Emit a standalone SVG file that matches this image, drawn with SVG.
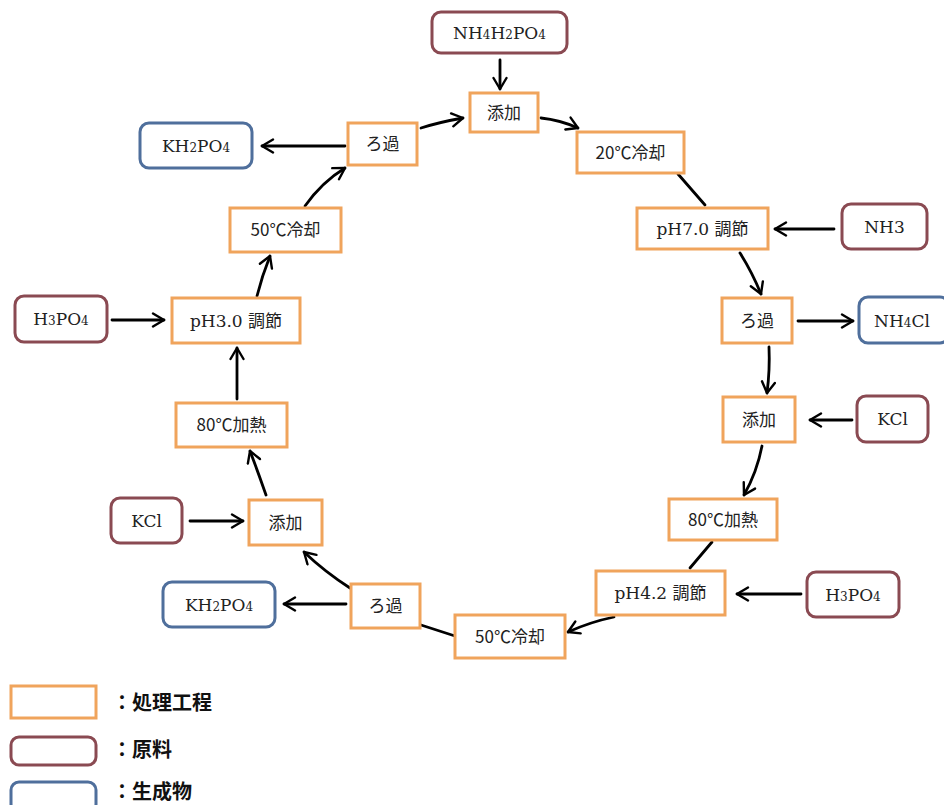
<svg xmlns="http://www.w3.org/2000/svg" width="944" height="805" viewBox="0 0 944 805">
<style>
.p{fill:#fff;stroke:#f0a45c;stroke-width:3}
.r{fill:#fff;stroke:#8a4a52;stroke-width:3}
.b{fill:#fff;stroke:#4f6f9c;stroke-width:3}
text{font-family:"DejaVu Serif","Noto Sans CJK JP",serif;font-size:17px;fill:#222;text-anchor:middle}
.j{font-family:"Noto Sans CJK JP","Liberation Sans",sans-serif}
.s{font-size:12px}
.lg{font-family:"Noto Sans CJK JP",sans-serif;font-size:20px;font-weight:bold;text-anchor:start;fill:#111}
.c{fill:none;stroke:#000;stroke-width:2.8;stroke-linecap:round}
.ca{marker-end:url(#ah)}
</style>
<defs>
<marker id="ah" markerWidth="16" markerHeight="16" refX="13" refY="8" orient="auto" markerUnits="userSpaceOnUse">
<path d="M2,1.5 L13,8 L2,14.5" fill="none" stroke="#000" stroke-width="2.4" stroke-linecap="round" stroke-linejoin="round"/>
</marker>
</defs>
<rect width="944" height="805" fill="#fff"/>

<g id="connectors">
<path class="c ca" d="M500,60 L500,89"/>
<path class="c ca" d="M541,118 Q560,120 578,128"/>
<path class="c" d="M678,174 L705,205"/>
<path class="c ca" d="M834,229 L775,229"/>
<path class="c ca" d="M740,253 Q752,272 761,294"/>
<path class="c ca" d="M798,321 L853,321"/>
<path class="c ca" d="M769,347 Q770,370 767,393"/>
<path class="c ca" d="M852,420 L810,420"/>
<path class="c ca" d="M762,446 Q757,472 744,495"/>
<path class="c" d="M712,542 L690,568"/>
<path class="c ca" d="M801,594 L737,594"/>
<path class="c ca" d="M614,617 Q590,622 568,632"/>
<path class="c" d="M455,636 L421,625"/>
<path class="c ca" d="M346,604 L284,604"/>
<path class="c ca" d="M350,588 Q325,572 304,552"/>
<path class="c ca" d="M190,521 L243,521"/>
<path class="c ca" d="M266,495 Q258,472 250,451"/>
<path class="c ca" d="M237,399 L237,348"/>
<path class="c ca" d="M112,320 L164,320"/>
<path class="c ca" d="M257,296 Q262,276 270,256"/>
<path class="c ca" d="M305,206 Q322,182 345,168"/>
<path class="c ca" d="M345,146 L262,146"/>
<path class="c ca" d="M421,128 Q440,122 463,118"/>
</g>

<g id="n_nh4h2po4"><rect class="r" x="432" y="12" width="135" height="41" rx="9"/><text x="499.5" y="39">NH<tspan class="s">4</tspan>H<tspan class="s">2</tspan>PO<tspan class="s">4</tspan></text></g>
<g id="n_add1"><rect class="p" x="470" y="93" width="68" height="39"/><text class="j" x="504" y="119">添加</text></g>
<g id="n_cool20"><rect class="p" x="577" y="132" width="107" height="41"/><text class="j" x="630.5" y="159">20℃冷却</text></g>
<g id="n_ph70"><rect class="p" x="637" y="208" width="131" height="41"/><text x="702.5" y="235">pH7.0 <tspan class="j">調節</tspan></text></g>
<g id="n_nh3"><rect class="r" x="842" y="204" width="85" height="45" rx="9"/><text x="884.5" y="233">NH3</text></g>
<g id="n_filt1"><rect class="p" x="722" y="298" width="70" height="45"/><text class="j" x="757" y="327">ろ過</text></g>
<g id="n_nh4cl"><rect class="b" x="859" y="297" width="90" height="46" rx="9"/><text x="902" y="327">NH<tspan class="s">4</tspan>Cl</text></g>
<g id="n_add2"><rect class="p" x="723" y="397" width="72" height="45"/><text class="j" x="759" y="426">添加</text></g>
<g id="n_kcl1"><rect class="r" x="857" y="396" width="71" height="46" rx="9"/><text x="892.5" y="425">KCl</text></g>
<g id="n_heat80a"><rect class="p" x="669" y="499" width="108" height="41"/><text class="j" x="723" y="526">80℃加熱</text></g>
<g id="n_ph42"><rect class="p" x="596" y="571" width="129" height="44"/><text x="660.5" y="599">pH4.2 <tspan class="j">調節</tspan></text></g>
<g id="n_h3po4a"><rect class="r" x="807" y="572" width="92" height="45" rx="9"/><text x="853" y="601">H<tspan class="s">3</tspan>PO<tspan class="s">4</tspan></text></g>
<g id="n_cool50a"><rect class="p" x="455" y="615" width="110" height="43"/><text class="j" x="510" y="643">50℃冷却</text></g>
<g id="n_filt2"><rect class="p" x="351" y="584" width="69" height="44"/><text class="j" x="385.5" y="612">ろ過</text></g>
<g id="n_kh2po4b"><rect class="b" x="163" y="582" width="112" height="45" rx="9"/><text x="219" y="611">KH<tspan class="s">2</tspan>PO<tspan class="s">4</tspan></text></g>
<g id="n_add3"><rect class="p" x="249" y="500" width="73" height="45"/><text class="j" x="285.5" y="529">添加</text></g>
<g id="n_kcl2"><rect class="r" x="111" y="498" width="71" height="45" rx="9"/><text x="146.5" y="527">KCl</text></g>
<g id="n_heat80b"><rect class="p" x="176" y="403" width="111" height="44"/><text class="j" x="231.5" y="431">80℃加熱</text></g>
<g id="n_ph30"><rect class="p" x="172" y="298" width="128" height="45"/><text x="236" y="327">pH3.0 <tspan class="j">調節</tspan></text></g>
<g id="n_h3po4b"><rect class="r" x="15" y="296" width="92" height="46" rx="9"/><text x="61" y="325">H<tspan class="s">3</tspan>PO<tspan class="s">4</tspan></text></g>
<g id="n_cool50b"><rect class="p" x="230" y="208" width="111" height="44"/><text class="j" x="285.5" y="236">50℃冷却</text></g>
<g id="n_filt3"><rect class="p" x="348" y="123" width="69" height="42"/><text class="j" x="382.5" y="150">ろ過</text></g>
<g id="n_kh2po4a"><rect class="b" x="140" y="123" width="112" height="45" rx="9"/><text x="196" y="152">KH<tspan class="s">2</tspan>PO<tspan class="s">4</tspan></text></g>

<g id="legend">
<rect class="p" x="11" y="686" width="85" height="32"/>
<text class="lg" x="112" y="710">：処理工程</text>
<rect class="r" x="11" y="737" width="85" height="28" rx="8"/>
<text class="lg" x="112" y="757">：原料</text>
<rect class="b" x="11" y="782" width="85" height="30" rx="8"/>
<text class="lg" x="112" y="799">：生成物</text>
</g>
</svg>
